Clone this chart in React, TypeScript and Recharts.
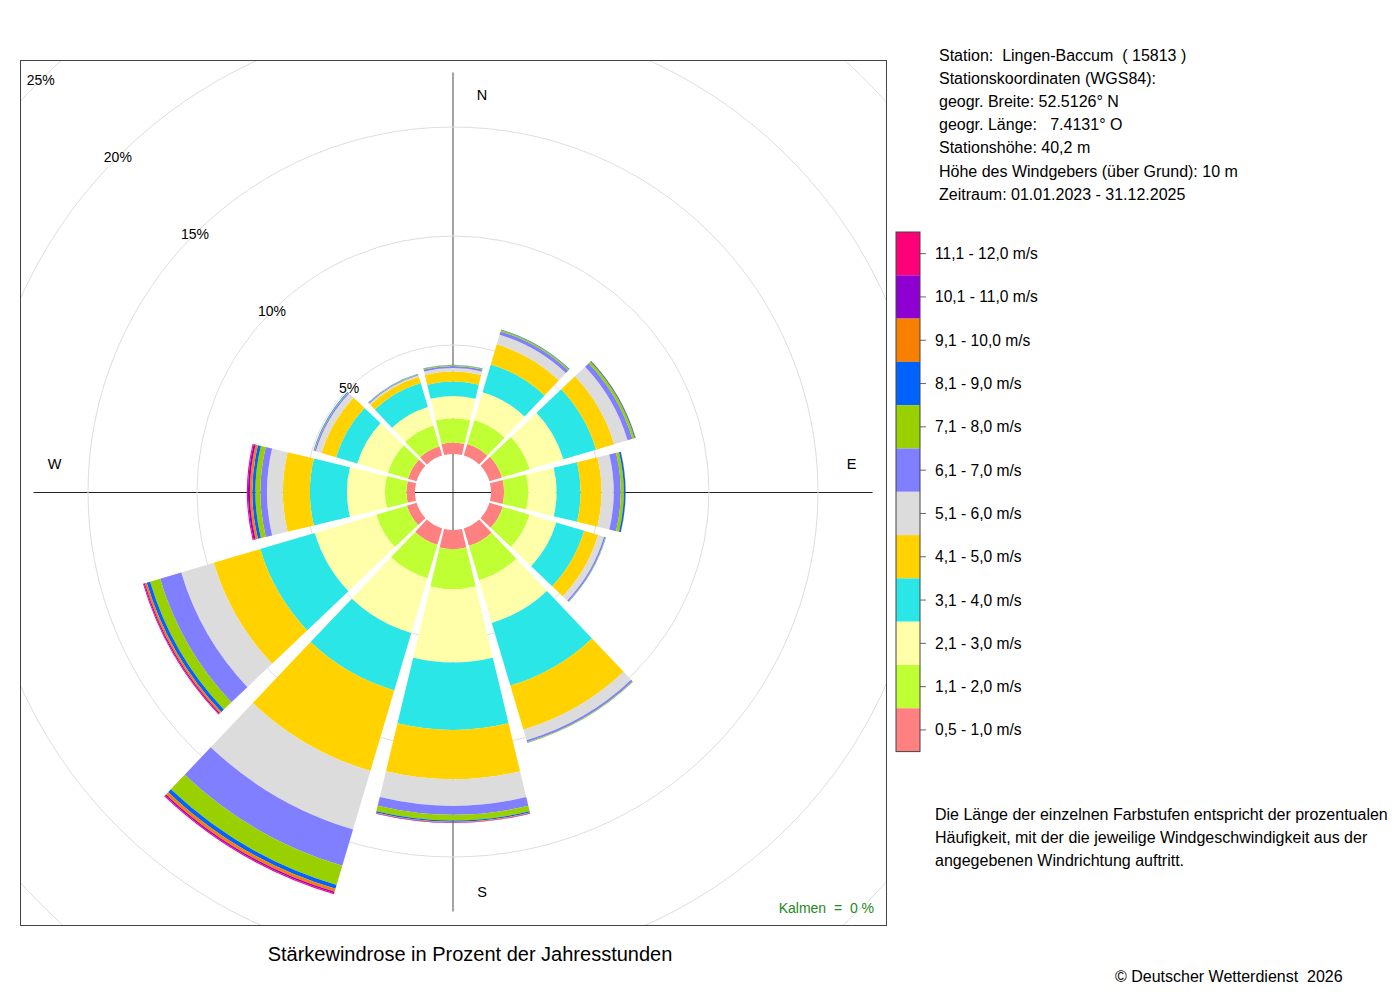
import React from 'react';
import { RadialBarChart, RadialBar, PolarAngleAxis, PolarRadiusAxis, PolarGrid } from 'recharts';

// ---------- data ----------
const directions = ['N', '30', '60', 'E', '120', '150', 'S', '210', '240', 'W', '300', '330'];

const classKeys = ['c05', 'c11', 'c21', 'c31', 'c41', 'c51', 'c61', 'c71', 'c81', 'c91', 'c101', 'c111'];
const classLabels = [
  '0,5 - 1,0 m/s', '1,1 - 2,0 m/s', '2,1 - 3,0 m/s', '3,1 - 4,0 m/s', '4,1 - 5,0 m/s', '5,1 - 6,0 m/s',
  '6,1 - 7,0 m/s', '7,1 - 8,0 m/s', '8,1 - 9,0 m/s', '9,1 - 10,0 m/s', '10,1 - 11,0 m/s', '11,1 - 12,0 m/s',
];
const classColors = [
  '#FF8080', '#BFFF33', '#FFFFAA', '#2AE6E6', '#FFD200', '#DCDCDC',
  '#7F7FFF', '#98D000', '#0062FF', '#F88000', '#8E00D2', '#FF0078',
];

// percent of hours per direction (N, 30, 60, E, 120, 150, S, 210, 240, W, 300, 330)
const v05_10 = [0.52, 0.55, 0.60, 0.60, 0.64, 0.83, 0.88, 0.78, 0.46, 0.39, 0.41, 0.45];
const v11_20 = [1.12, 1.15, 1.33, 1.11, 1.28, 1.65, 1.83, 1.61, 1.47, 0.99, 0.96, 0.99];
const v21_30 = [1.02, 1.33, 1.61, 1.30, 1.28, 2.04, 3.37, 2.61, 2.94, 1.74, 1.47, 0.88];
const v31_40 = [0.66, 1.33, 1.56, 1.10, 1.33, 3.00, 3.09, 2.75, 2.61, 1.70, 1.01, 1.15];
const v41_50 = [0.46, 0.96, 0.87, 0.96, 0.67, 2.11, 2.26, 3.85, 2.22, 1.24, 0.69, 0.30];
const v51_60 = [0.16, 0.46, 0.64, 0.56, 0.28, 0.50, 1.22, 2.80, 1.56, 0.73, 0.28, 0.07];
const v61_70 = [0.09, 0.16, 0.23, 0.32, 0.07, 0.09, 0.41, 1.74, 1.01, 0.30, 0.06, 0.04];
const v71_80 = [0.05, 0.07, 0.11, 0.14, 0.02, 0.03, 0.26, 0.92, 0.48, 0.23, 0.03, 0.02];
const v81_90 = [0.01, 0.02, 0.04, 0.08, 0.01, 0.01, 0.06, 0.18, 0.16, 0.14, 0.02, 0.01];
const v91_100 = [0.00, 0.00, 0.01, 0.01, 0.00, 0.00, 0.03, 0.14, 0.09, 0.11, 0.00, 0.00];
const v101_110 = [0.00, 0.00, 0.00, 0.00, 0.00, 0.00, 0.02, 0.07, 0.05, 0.09, 0.00, 0.00];
const v111_120 = [0.00, 0.00, 0.00, 0.00, 0.00, 0.00, 0.01, 0.05, 0.04, 0.05, 0.00, 0.00];

const radiusTicks = [5, 10, 15, 20, 25];
const radiusDomain: [number, number] = [0, 25];

const stationLines = [
  'Station:  Lingen-Baccum  ( 15813 )',
  'Stationskoordinaten (WGS84):',
  'geogr. Breite: 52.5126° N',
  'geogr. Länge:   7.4131° O',
  'Stationshöhe: 40,2 m',
  'Höhe des Windgebers (über Grund): 10 m',
  'Zeitraum: 01.01.2023 - 31.12.2025',
];
const noteLines = [
  'Die Länge der einzelnen Farbstufen entspricht der prozentualen',
  'Häufigkeit, mit der die jeweilige Windgeschwindigkeit aus der',
  'angegebenen Windrichtung auftritt.',
];
const titleText = 'Stärkewindrose in Prozent der Jahresstunden';
const calmText = 'Kalmen  =  0 %';
const copyrightText = '© Deutscher Wetterdienst  2026';

const series = [v05_10, v11_20, v21_30, v31_40, v41_50, v51_60, v61_70, v71_80, v81_90, v91_100, v101_110, v111_120];
const data = directions.map((dir, i) => {
  const row: Record<string, number | string> = { dir };
  classKeys.forEach((k, j) => {
    row[k] = series[j][i];
  });
  return row;
});
const totals = directions.map((_, i) => series.reduce((s, arr) => s + arr[i], 0));
const maxTotal = Math.max(...totals);

// ---------- layout ----------
const FONT = "'Liberation Sans', Arial, Helvetica, sans-serif";
const BOX_X = 20;
const BOX_Y = 60;
const BOX_W = 866;
const BOX_H = 865;
const CX = 453;
const CY = 492;
const INNER = 38;
const OUTER = 583;
const axisLen = INNER + ((OUTER - INNER) * maxTotal) / radiusDomain[1];

const RadiusTick = (props: any) => {
  const { x, y, payload } = props;
  return (
    <text x={x} y={y} textAnchor="middle" dominantBaseline="central" fontSize={14} fill="#000" fontFamily={FONT}>
      {`${payload.value}%`}
    </text>
  );
};

const LEG_X = 896;
const LEG_Y = 232;
const LEG_W = 24;
const LEG_CELL = 43.3;

export default function App() {
  const legendOrder = classKeys.map((_, j) => classKeys.length - 1 - j);
  return (
    <div style={{ position: 'absolute', left: 0, top: 0, width: 1400, height: 1000, background: '#fff', fontFamily: FONT }}>
      <svg style={{ position: 'absolute', left: 0, top: 0 }} width={1400} height={1000}>
        <line x1={CX} y1={CY - axisLen} x2={CX} y2={CY + axisLen} stroke="#8c8c8c" strokeWidth={1.6} />
        <line x1={CX - axisLen} y1={CY + 0.5} x2={CX + axisLen} y2={CY + 0.5} stroke="#222" strokeWidth={1} />
      </svg>
      <div style={{ position: 'absolute', left: BOX_X, top: BOX_Y, width: BOX_W, height: BOX_H, overflow: 'hidden' }}>
        <RadialBarChart
          width={BOX_W}
          height={BOX_H}
          cx={CX - BOX_X}
          cy={CY - BOX_Y}
          innerRadius={INNER}
          outerRadius={OUTER}
          startAngle={75}
          endAngle={-285}
          layout="centric"
          barCategoryGap="5%"
          data={data}
          margin={{ top: 0, right: 0, bottom: 0, left: 0 }}
        >
          <PolarGrid gridType="circle" radialLines={false} stroke="#dedede" />
          <PolarAngleAxis dataKey="dir" type="category" tick={false} axisLine={false} tickLine={false} />
          <PolarRadiusAxis
            type="number"
            domain={radiusDomain}
            ticks={radiusTicks}
            angle={135}
            axisLine={false}
            tickLine={false}
            tick={RadiusTick}
            allowDataOverflow
          />
          {classKeys.map((k, j) => (
            <RadialBar key={k} dataKey={k} stackId="wind" fill={classColors[j]} isAnimationActive={false} />
          ))}
        </RadialBarChart>
      </div>
      <svg style={{ position: 'absolute', left: 0, top: 0, pointerEvents: 'none' }} width={1400} height={1000} fontFamily={FONT}>
        <rect x={BOX_X + 0.5} y={BOX_Y + 0.5} width={BOX_W} height={BOX_H} fill="none" stroke="#444" strokeWidth={1} />
        <text x={CX + 29} y={CY - axisLen + 22} fontSize={14.5} textAnchor="middle" dominantBaseline="central">N</text>
        <text x={CX + axisLen - 21} y={CY - 28} fontSize={14.5} textAnchor="middle" dominantBaseline="central">E</text>
        <text x={CX + 29} y={CY + axisLen - 20} fontSize={14.5} textAnchor="middle" dominantBaseline="central">S</text>
        <text x={CX - axisLen + 21} y={CY - 28} fontSize={14.5} textAnchor="middle" dominantBaseline="central">W</text>
        <text x={874} y={908} fontSize={14} fill="#228B22" textAnchor="end" dominantBaseline="central" style={{ whiteSpace: 'pre' }}>
          {calmText}
        </text>
        <text x={470} y={954} fontSize={20} textAnchor="middle" dominantBaseline="central">{titleText}</text>
        {stationLines.map((t, i) => (
          <text key={i} x={939} y={55 + i * 23.2} fontSize={16} dominantBaseline="central" style={{ whiteSpace: 'pre' }}>
            {t}
          </text>
        ))}
        {legendOrder.map((j, i) => (
          <g key={classKeys[j]}>
            <rect x={LEG_X} y={LEG_Y + i * LEG_CELL} width={LEG_W} height={LEG_CELL} fill={classColors[j]} />
            <line x1={LEG_X + LEG_W} x2={LEG_X + LEG_W + 6} y1={LEG_Y + (i + 0.5) * LEG_CELL} y2={LEG_Y + (i + 0.5) * LEG_CELL} stroke="#666" />
            <text x={935} y={LEG_Y + (i + 0.5) * LEG_CELL} fontSize={15.6} dominantBaseline="central">
              {classLabels[j]}
            </text>
          </g>
        ))}
        <rect x={LEG_X} y={LEG_Y} width={LEG_W} height={LEG_CELL * classKeys.length} fill="none" stroke="#444" strokeWidth={1} />
        {noteLines.map((t, i) => (
          <text key={i} x={935} y={814 + i * 23} fontSize={16} dominantBaseline="central">
            {t}
          </text>
        ))}
        <text x={1115} y={976} fontSize={16} dominantBaseline="central" style={{ whiteSpace: 'pre' }}>
          {copyrightText}
        </text>
      </svg>
    </div>
  );
}
